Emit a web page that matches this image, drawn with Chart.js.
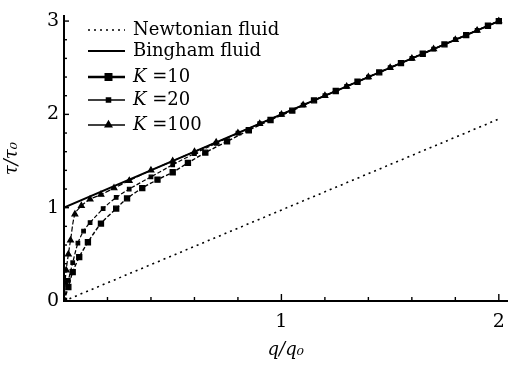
<!DOCTYPE html>
<html><head><meta charset="utf-8">
<script src="https://cdn.jsdelivr.net/npm/chart.js@4.4.1/dist/chart.umd.min.js"></script>
<style>html,body{margin:0;padding:0;background:#fff}#wrap{width:515px;height:365px}</style>
</head><body><div id="wrap"><canvas id="c" width="515" height="365"></canvas></div>
<script>
// ---- data ----
const seriesNames = ["Newtonian fluid", "Bingham fluid", "K =10", "K =20", "K =100"];
const qNewton = [0, 2.0];
const tNewton = [0, 1.95];
const qBingham = [0, 2.0];
const tBingham = [1.0, 3.0];
const qK10 = [0, 0.02, 0.04, 0.07, 0.11, 0.17, 0.24, 0.29, 0.36, 0.43, 0.5, 0.57, 0.65, 0.75, 0.85, 0.95, 1.05, 1.15, 1.25, 1.35, 1.45, 1.55, 1.65, 1.75, 1.85, 1.95, 2.0];
const tK10 = [0, 0.15, 0.31, 0.47, 0.63, 0.83, 0.99, 1.10, 1.21, 1.30, 1.38, 1.48, 1.59, 1.71, 1.83, 1.94, 2.04, 2.15, 2.25, 2.35, 2.45, 2.55, 2.65, 2.75, 2.85, 2.95, 3.0];
const qK20 = [0, 0.02, 0.04, 0.064, 0.09, 0.12, 0.18, 0.24, 0.3, 0.4, 0.5, 0.6, 0.7, 0.8, 0.9, 1.0, 1.1, 1.2, 1.3, 1.4, 1.5, 1.6, 1.7, 1.8, 1.9, 2.0];
const tK20 = [0, 0.22, 0.41, 0.62, 0.75, 0.84, 0.99, 1.11, 1.20, 1.33, 1.46, 1.58, 1.69, 1.80, 1.90, 2.0, 2.1, 2.2, 2.3, 2.4, 2.5, 2.6, 2.7, 2.8, 2.9, 3.0];
const qK100 = [0, 0.005, 0.01, 0.02, 0.03, 0.05, 0.08, 0.12, 0.17, 0.23, 0.3, 0.4, 0.5, 0.6, 0.7, 0.8, 0.9, 1.0, 1.1, 1.2, 1.3, 1.4, 1.5, 1.6, 1.7, 1.8, 1.9, 2.0];
const tK100 = [0, 0.2, 0.33, 0.5, 0.65, 0.93, 1.02, 1.09, 1.14, 1.21, 1.29, 1.4, 1.5, 1.6, 1.7, 1.8, 1.9, 2.0, 2.1, 2.2, 2.3, 2.4, 2.5, 2.6, 2.7, 2.8, 2.9, 3.0];
const xTickValues = [1, 2];
const yTickValues = [0, 1, 2, 3];
const xMinorTicks = [0.2, 0.4, 0.6, 0.8, 1.0, 1.2, 1.4, 1.6, 1.8, 2.0];
const yMinorTicks = [0.2, 0.4, 0.6, 0.8, 1.0, 1.2, 1.4, 1.6, 1.8, 2.0, 2.2, 2.4, 2.6, 2.8, 3.0];

const pts = (xs, ys) => xs.map((x, i) => ({x: x, y: ys[i]}));
const SERIF = "'DejaVu Serif', 'Liberation Serif', serif";

const datasets = [
  {label: seriesNames[0], data: pts(qNewton, tNewton), borderColor: '#000', borderWidth: 1.6, borderDash: [2, 4], pointRadius: 0, showLine: true},
  {label: seriesNames[1], data: pts(qBingham, tBingham), borderColor: '#000', borderWidth: 2, pointRadius: 0, showLine: true},
  {label: seriesNames[2], data: pts(qK10, tK10), borderColor: '#000', backgroundColor: '#000', borderWidth: 1.4, borderDash: [4, 2], pointStyle: 'rect', pointRadius: 3.5, showLine: true, _legW: 2.6},
  {label: seriesNames[3], data: pts(qK20, tK20), borderColor: '#000', backgroundColor: '#000', borderWidth: 1.2, borderDash: [4, 2], pointStyle: 'rect', pointRadius: 2.5, showLine: true, _legW: 1.6},
  {label: seriesNames[4], data: pts(qK100, tK100), borderColor: '#000', backgroundColor: '#000', borderWidth: 1.2, borderDash: [5, 2], pointStyle: 'triangle', pointRadius: 3.3, showLine: true, _legW: 1.6}
];

const legendRows = [30, 51, 77, 100, 125];

const extras = {
  id: 'extras',
  afterDraw(chart) {
    const ctx = chart.ctx, xs = chart.scales.x, ys = chart.scales.y;
    ctx.save();
    ctx.strokeStyle = '#000';
    ctx.lineWidth = 1.4;
    const y0 = ys.getPixelForValue(0), x0 = xs.getPixelForValue(0);
    xMinorTicks.forEach(v => {
      const px = xs.getPixelForValue(v);
      const len = Number.isInteger(v) ? 7 : 4;
      ctx.beginPath(); ctx.moveTo(px, y0); ctx.lineTo(px, y0 - len); ctx.stroke();
    });
    yMinorTicks.forEach(v => {
      const py = ys.getPixelForValue(v);
      const len = Math.abs(v - Math.round(v)) < 1e-9 ? 5 : 3;
      ctx.beginPath(); ctx.moveTo(x0, py); ctx.lineTo(x0 + len, py); ctx.stroke();
    });
    const lx0 = 88, lx1 = 125, tx = 133;
    chart.data.datasets.forEach((ds, i) => {
      const y = legendRows[i];
      ctx.save();
      ctx.strokeStyle = '#000'; ctx.fillStyle = '#000';
      ctx.lineWidth = ds._legW || ds.borderWidth;
      ctx.setLineDash(i === 0 ? ds.borderDash : []);
      ctx.beginPath(); ctx.moveTo(lx0, y); ctx.lineTo(lx1, y); ctx.stroke();
      ctx.setLineDash([]);
      if (ds.pointRadius > 0) {
        Chart.helpers.drawPoint(ctx, {pointStyle: ds.pointStyle, radius: ds.pointRadius + 0.3, borderWidth: 1, rotation: 0}, (lx0 + lx1) / 2 + 2, y);
        ctx.fill();
      }
      ctx.textBaseline = 'middle';
      ctx.textAlign = 'left';
      if (i >= 2) {
        ctx.font = "italic 18px " + SERIF;
        ctx.fillText('K', tx, y);
        const w = ctx.measureText('K').width;
        ctx.font = "18px " + SERIF;
        ctx.fillText(ds.label.slice(1), tx + w, y);
      } else {
        ctx.font = "18px " + SERIF;
        ctx.fillText(ds.label, tx, y);
      }
      ctx.restore();
    });
    ctx.restore();
  }
};

new Chart(document.getElementById('c'), {
  type: 'scatter',
  data: {datasets: datasets},
  options: {
    responsive: false,
    animation: false,
    devicePixelRatio: 1,
    layout: {padding: {left: 0, right: 7, top: 15, bottom: 0}},
    plugins: {legend: {display: false}, tooltip: {enabled: false}},
    elements: {line: {tension: 0.3}},
    scales: {
      x: {
        type: 'linear', min: 0, max: 2.04,
        afterBuildTicks: s => { s.ticks = xTickValues.map(v => ({value: v})); },
        afterFit: s => { s.height = 64; },
        grid: {drawOnChartArea: false, drawTicks: false},
        border: {color: '#000', width: 2},
        ticks: {color: '#000', padding: 10, font: {family: SERIF, size: 19}, callback: v => String(v)},
        title: {display: true, text: 'q/q₀', color: '#000', font: {family: SERIF, size: 18, style: 'italic'}, padding: {top: 6, bottom: 4}}
      },
      y: {
        type: 'linear', min: 0, max: 3.05,
        afterBuildTicks: s => { s.ticks = yTickValues.map(v => ({value: v})); },
        afterFit: s => { s.width = 64; },
        grid: {drawOnChartArea: false, drawTicks: false},
        border: {color: '#000', width: 2},
        ticks: {color: '#000', padding: 5, font: {family: SERIF, size: 19}, callback: v => String(v)},
        title: {display: true, text: 'τ/τ₀', color: '#000', font: {family: SERIF, size: 18, style: 'italic'}, padding: {top: 2, bottom: 0}}
      }
    }
  },
  plugins: [extras]
});
</script>
</body></html>
